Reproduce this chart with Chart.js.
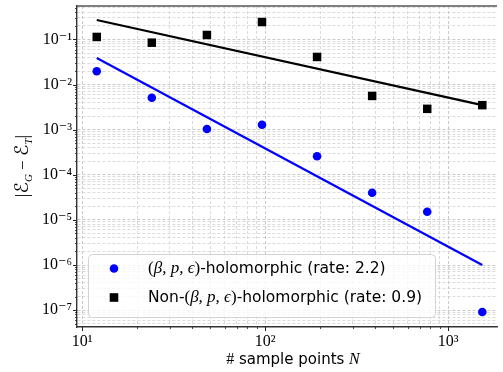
<!DOCTYPE html>
<html>
<head>
<meta charset="utf-8">
<script src="https://cdn.jsdelivr.net/npm/chart.js@4"></script>
<style>
  html, body { margin: 0; padding: 0; background: #fff; }
  #wrap { width: 503px; height: 372px; position: relative; }
</style>
</head>
<body>
<div id="wrap"><canvas id="chart"></canvas></div>
<script>
// sample sizes and errors
const sampleN = [12, 24, 48, 96, 192, 384, 768, 1536];
const holoErr = [0.0197, 0.0051, 0.00104, 0.00129, 0.000257, 4.0e-5, 1.52e-5, 9.1e-8];
const nonHoloErr = [0.114, 0.085, 0.126, 0.244, 0.041, 0.0056, 0.0029, 0.0035];

// fitted rate lines (end points)
const fitN = [12, 1536];
const holoFit = [0.039, 1.0e-6];
const nonHoloFit = [0.27, 0.0035];

const legendRows = [
  { pre: '', post: '-holomorphic (rate: 2.2)' },
  { pre: 'Non-', post: '-holomorphic (rate: 0.9)' }
];

const xRange = [9.36, 1848];
const yRange = [4.22e-8, 0.553];

const SERIF = '"Liberation Serif", "DejaVu Serif", serif';
const SANS = '"DejaVu Sans", sans-serif';
const BLUE = '#0000ff';

const SUP = { '-': '\u207B', '0': '\u2070', '1': '\u00B9', '2': '\u00B2', '3': '\u00B3',
  '4': '\u2074', '5': '\u2075', '6': '\u2076', '7': '\u2077', '8': '\u2078', '9': '\u2079' };
const sup = s => String(s).split('').map(c => SUP[c]).join('');

function decadeTicks(min, max) {
  const out = [];
  for (let e = Math.floor(Math.log10(min)); e <= Math.ceil(Math.log10(max)); e++) {
    for (let m = 1; m <= 9; m++) {
      const v = Number(m + 'e' + e);
      if (v >= min && v <= max) out.push({ value: v, major: m === 1 });
    }
  }
  return out;
}

const toPts = (xs, ys) => xs.map((x, i) => ({ x, y: ys[i] }));

function richText(ctx, x, y, parts) {
  parts.forEach(p => {
    ctx.font = p.font;
    ctx.fillText(p.t, x, y + (p.dy || 0));
    x += ctx.measureText(p.t).width;
  });
  return x;
}
function richWidth(ctx, parts) {
  let w = 0;
  parts.forEach(p => { ctx.font = p.font; w += ctx.measureText(p.t).width; });
  return w;
}

const logAxis = scaleOpts => Object.assign({
  type: 'logarithmic',
  bounds: 'data',
  grid: {
    color: c => (c.tick && c.tick.major) ? '#bdbdbd' : '#d2d2d2',
    lineWidth: 0.8,
    drawTicks: false
  },
  border: { display: true, color: '#333', width: 1.4, dash: [3, 2] },
  afterBuildTicks: s => { s.ticks = decadeTicks(s.min, s.max); }
}, scaleOpts);

const tickLabel = (v, i, ts) => ts[i].major ? '10' + sup(Math.round(Math.log10(v))) : '';

const framePlugin = {
  id: 'frame',
  afterDraw(chart) {
    const { ctx, chartArea: a, scales } = chart;
    ctx.save();
    // top spine
    ctx.strokeStyle = '#555';
    ctx.lineWidth = 1.6;
    ctx.beginPath(); ctx.moveTo(a.left, a.top); ctx.lineTo(a.right, a.top); ctx.stroke();

    // tick marks, major longer than minor
    ctx.strokeStyle = '#222';
    scales.y.ticks.forEach(t => {
      const py = Math.round(scales.y.getPixelForValue(t.value)) + 0.5;
      const len = t.major ? 4 : 2;
      ctx.lineWidth = t.major ? 1 : 0.8;
      ctx.beginPath(); ctx.moveTo(a.left - len, py); ctx.lineTo(a.left, py); ctx.stroke();
    });
    scales.x.ticks.forEach(t => {
      const px = Math.round(scales.x.getPixelForValue(t.value)) + 0.5;
      const len = t.major ? 4 : 2;
      ctx.lineWidth = t.major ? 1 : 0.8;
      ctx.beginPath(); ctx.moveTo(px, a.bottom); ctx.lineTo(px, a.bottom + len); ctx.stroke();
    });

    // axis titles
    ctx.fillStyle = '#000';
    ctx.textBaseline = 'alphabetic';
    const xt = [
      { t: '#', font: '16px ' + SERIF },
      { t: ' sample points ', font: '15px ' + SANS },
      { t: 'N', font: 'italic 16px ' + SERIF }
    ];
    richText(ctx, 293 - richWidth(ctx, xt) / 2, 364, xt);

    const yt = [
      { t: '|', font: '18px ' + SERIF },
      { t: '\u2130', font: '19px "DejaVu Sans", sans-serif' },
      { t: 'G', font: 'italic 11px ' + SERIF, dy: 4 },
      { t: ' \u2212 ', font: '17px ' + SERIF },
      { t: '\u2130', font: '19px "DejaVu Sans", sans-serif' },
      { t: 'T', font: 'italic 11px ' + SERIF, dy: 4 },
      { t: '|', font: '18px ' + SERIF }
    ];
    ctx.translate(28, 166);
    ctx.rotate(-Math.PI / 2);
    richText(ctx, -richWidth(ctx, yt) / 2, 0, yt);
    ctx.restore();
  }
};

const legendPlugin = {
  id: 'richLegend',
  afterDatasetsDraw(chart) {
    const { ctx } = chart;
    const bx = 88, by = 254, bw = 347, bh = 63;
    ctx.save();
    ctx.fillStyle = 'rgba(255,255,255,0.8)';
    ctx.strokeStyle = '#d3d3d3';
    ctx.lineWidth = 1;
    ctx.beginPath();
    ctx.roundRect(bx + 0.5, by + 0.5, bw, bh, 4);
    ctx.fill(); ctx.stroke();

    const rowY = [268.5, 297.5];
    ctx.fillStyle = BLUE;
    ctx.beginPath(); ctx.arc(114, rowY[0], 4.3, 0, Math.PI * 2); ctx.fill();
    ctx.fillStyle = '#000';
    ctx.fillRect(114 - 4.3, rowY[1] - 4.3, 8.6, 8.6);

    ctx.textBaseline = 'middle';
    legendRows.forEach((r, i) => {
      const parts = [];
      if (r.pre) parts.push({ t: r.pre, font: '15.5px ' + SANS });
      parts.push({ t: '(', font: '17px ' + SERIF });
      parts.push({ t: '\u03B2, p, \u03F5', font: 'italic 17px ' + SERIF });
      parts.push({ t: ')', font: '17px ' + SERIF });
      parts.push({ t: r.post, font: '15.5px ' + SANS });
      richText(ctx, 148, rowY[i], parts);
    });
    ctx.restore();
  }
};

new Chart(document.getElementById('chart'), {
  type: 'scatter',
  data: {
    datasets: [
      {
        label: 'holo fit',
        data: toPts(fitN, holoFit),
        showLine: true, borderColor: BLUE, borderWidth: 2.2, pointRadius: 0, order: 3
      },
      {
        label: 'non-holo fit',
        data: toPts(fitN, nonHoloFit),
        showLine: true, borderColor: '#000', borderWidth: 2.2, pointRadius: 0, order: 4
      },
      {
        label: '(β, p, ϵ)-holomorphic (rate: 2.2)',
        data: toPts(sampleN, holoErr),
        pointStyle: 'circle', pointRadius: 4.3, backgroundColor: BLUE, borderWidth: 0, order: 1
      },
      {
        label: 'Non-(β, p, ϵ)-holomorphic (rate: 0.9)',
        data: toPts(sampleN, nonHoloErr),
        pointStyle: 'rect', pointRadius: 6, backgroundColor: '#000', borderWidth: 0, order: 2
      }
    ]
  },
  options: {
    responsive: true,
    maintainAspectRatio: false,
    animation: false,
    devicePixelRatio: 1,
    layout: { padding: { top: 6, left: 0, right: 0, bottom: 0 } },
    plugins: { legend: { display: false }, tooltip: { enabled: false } },
    scales: {
      x: logAxis({
        min: xRange[0], max: xRange[1],
        ticks: {
          autoSkip: false, maxRotation: 0, padding: 5, color: '#000',
          font: { family: SERIF, size: 16 },
          callback: tickLabel
        },
        afterFit: s => { s.height = 45; s.paddingLeft = 0; s.paddingRight = 0; }
      }),
      y: logAxis({
        min: yRange[0], max: yRange[1],
        ticks: {
          autoSkip: false, padding: 5, color: '#000',
          font: { family: SERIF, size: 16 },
          callback: tickLabel
        },
        afterFit: s => { s.width = 77; s.paddingTop = 0; s.paddingBottom = 0; }
      })
    }
  },
  plugins: [framePlugin, legendPlugin]
});
</script>
</body>
</html>
